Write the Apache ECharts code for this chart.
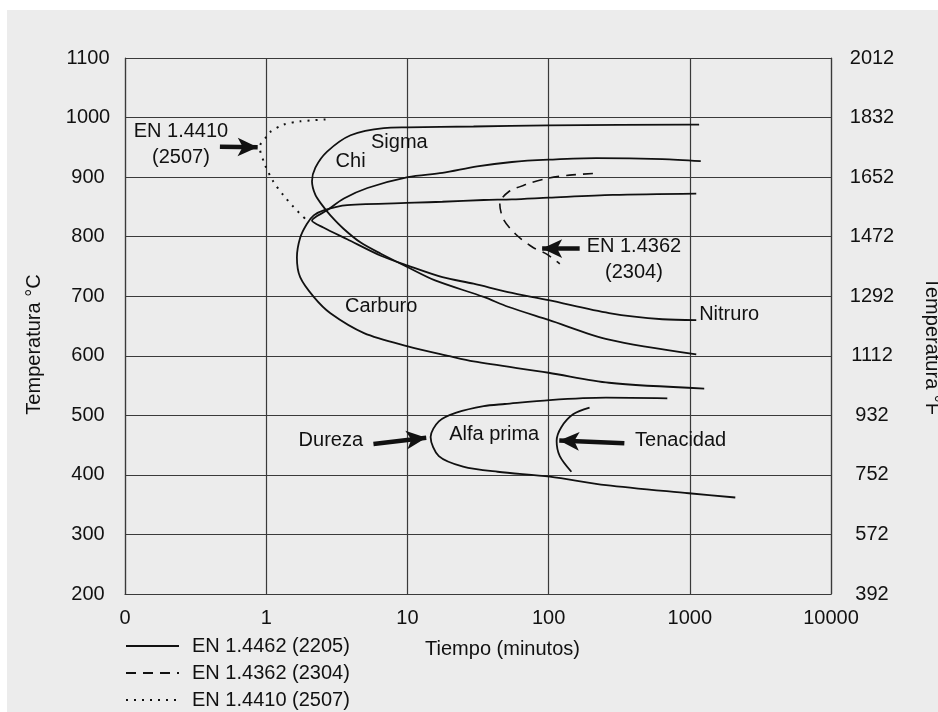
<!DOCTYPE html>
<html>
<head>
<meta charset="utf-8">
<script src="https://cdn.jsdelivr.net/npm/echarts@6/dist/echarts.min.js"></script>
<style>
html, body { margin: 0; padding: 0; background: #fff; overflow: hidden; }
#panel { position: absolute; left: 7px; top: 10px; width: 931px; height: 702px; background: #ececec; }
#chart { position: absolute; left: 0; top: 0; width: 938px; height: 712px; }
</style>
</head>
<body>
<div id="panel"></div>
<div id="chart"></div>
<script>
// Tick labels
const xTickLabels = ['0', '1', '10', '100', '1000', '10000'];
const cTickLabels = ['200', '300', '400', '500', '600', '700', '800', '900', '1000', '1100'];
const fTickLabels = ['392', '572', '752', '932', '1112', '1292', '1472', '1652', '1832', '2012'];

// Series names
const name2205 = 'EN 1.4462 (2205)';
const name2304 = 'EN 1.4362 (2304)';
const name2507 = 'EN 1.4410 (2507)';

// EN 1.4462 (2205) precipitation curves: [tiempo (min), temperatura (°C)]
const chi2205 = [[1164, 988], [1000, 988], [100, 987], [29.4, 985], [10, 983.5], [6.8, 982.4], [3.96, 970.3],
  [2.70, 942.8], [2.23, 916], [2.11, 893], [2.23, 870], [2.49, 853], [2.85, 835.7], [3.53, 813.3],
  [4.67, 790], [6.49, 771.3], [10.07, 748.6], [15.7, 726.5], [34.7, 698.8], [51.6, 682.3],
  [100, 660.2], [268, 627], [1111, 602.2]];
const sigma2205 = [[1196, 926.7], [640, 930.3], [217, 931.9], [100, 929.2], [55, 925.4], [31.2, 918.2],
  [17.7, 907.2], [10.07, 900], [5.21, 881.7], [3.55, 864], [2.70, 844.3], [2.11, 827], [2.54, 815.5],
  [3.75, 795.7], [6.49, 768], [10.07, 751.4], [17.7, 732], [29.4, 721], [51.6, 707], [100, 693.4],
  [268, 671.8], [640, 661.3], [1111, 660]];
const carb2205 = [[1111, 872.4], [285, 870.2], [100, 865.5], [55, 862.6], [34.7, 861.6], [17.7, 858.6],
  [11.3, 857], [3.75, 852.9], [2.55, 844.3], [2.17, 835.7], [1.94, 821.4], [1.74, 798.3], [1.65, 765.2],
  [1.74, 731.9], [2.17, 698.8], [2.85, 671.3], [4.93, 638.1], [10.07, 615.9], [19.9, 599.3],
  [29.4, 590.5], [100, 571.5], [268, 554.7], [1265, 545]];
const alpha2205 = [[693, 528.5], [255, 529.6], [102, 525.6], [49, 519], [34.7, 515.6], [22.2, 504.5],
  [16.7, 490], [14.6, 463.7], [16.7, 431.6], [24.8, 414], [43.6, 405.3], [102, 397], [255, 382.9],
  [984, 369.2], [2100, 362]];
const tough2205 = [[195, 512.9], [149, 501.7], [123, 480], [114, 457], [120, 431.6], [145, 405.3]];

// EN 1.4362 (2304)
const curve2304 = [[206, 906.1], [141, 903.3], [97, 897.8], [68.9, 887.5], [51.9, 875], [45.1, 856],
  [47.7, 830], [58.5, 804], [77.6, 781.8], [97, 770.8], [120, 754.2]];

// EN 1.4410 (2507)
const curve2507 = [[2.63, 996.7], [1.74, 993.6], [1.32, 988], [1.06, 975.5], [1.01, 968.9], [0.90, 950.6],
  [0.98, 921], [1.12, 893], [1.32, 870], [1.56, 850], [1.89, 830]];

// Annotation texts and their anchor points [tiempo, temperatura]
const noteTexts = ['Sigma', 'Chi', 'Carburo', 'Nitruro', 'Alfa prima', 'Dureza', 'Tenacidad',
  'EN 1.4410\n(2507)', 'EN 1.4362\n(2304)'];
const notePoints = [[8.77, 958.8], [3.96, 925.9], [6.52, 682.3], [1900, 668.5], [41.2, 467.7],
  [2.87, 457.9], [861, 457.9], [0.249, 954.7], [402, 761.4]];

// Pointer arrows: [from, to]
const arrows = [
  [[0.47, 951], [0.87, 950]],
  [[166, 780], [90, 780]],
  [[5.75, 452], [13.6, 462.4]],
  [[344, 453], [119, 457.8]]
];

const ink = '#111111';
const gridInk = '#3a3a3a';
const font = "'Liberation Sans', Arial, sans-serif";

const solid = { color: ink, width: 1.8, type: 'solid' };
const dashed = { color: ink, width: 1.6, type: [10, 7] };
const dotted = { color: ink, width: 2, type: [2, 6] };

function curve(name, data, style) {
  return {
    name: name, type: 'line', data: data, smooth: 0.3, symbol: 'none',
    lineStyle: style, itemStyle: { color: ink }, silent: true, z: 3
  };
}

const chart = echarts.init(document.getElementById('chart'), null, { renderer: 'canvas' });

chart.setOption({
  animation: false,
  backgroundColor: 'transparent',
  textStyle: { fontFamily: font, color: ink },
  grid: { left: 125, right: 107, top: 58, bottom: 118, containLabel: false, outerBoundsMode: 'none' },
  legend: {
    orient: 'vertical', left: 125, top: 636, padding: 0,
    itemWidth: 53, itemHeight: 14, itemGap: 7,
    selectedMode: false,
    itemStyle: { opacity: 0 },
    data: [name2205, name2304, name2507],
    textStyle: { fontSize: 20, color: ink, fontFamily: font, lineHeight: 20, padding: [0, 0, 0, 8] }
  },
  xAxis: {
    type: 'log', logBase: 10, min: 0.1, max: 10000,
    name: 'Tiempo (minutos)', nameLocation: 'middle', nameGap: 45,
    nameTextStyle: { fontSize: 20, color: ink, fontFamily: font, padding: [0, 0, 0, 49] },
    axisLine: { show: true, lineStyle: { color: gridInk, width: 1.2 } },
    axisTick: { show: false },
    minorTick: { show: false },
    splitLine: { show: true, lineStyle: { color: gridInk, width: 1.2 } },
    axisLabel: {
      fontSize: 20, color: ink, fontFamily: font, margin: 14,
      showMinLabel: true, showMaxLabel: true,
      formatter: function (v, i) { return xTickLabels[i]; }
    }
  },
  yAxis: [
    {
      type: 'value', min: 200, max: 1100, interval: 100, position: 'left',
      name: 'Temperatura °C', nameLocation: 'middle', nameGap: 81,
      nameTextStyle: { fontSize: 20, color: ink, fontFamily: font, padding: [0, 37, 0, 0] },
      axisLine: { show: true, lineStyle: { color: gridInk, width: 1.2 } },
      axisTick: { show: false },
      splitLine: { show: true, lineStyle: { color: gridInk, width: 1.2 } },
      axisLabel: {
        fontSize: 20, color: ink, fontFamily: font, align: 'center', margin: 37,
        formatter: function (v, i) { return cTickLabels[i]; }
      }
    },
    {
      type: 'value', min: 200, max: 1100, interval: 100, position: 'right',
      name: 'Temperatura °F', nameLocation: 'middle', nameGap: 91, nameRotate: -90,
      nameTextStyle: { fontSize: 20, color: ink, fontFamily: font, padding: [0, 0, 0, 40] },
      axisLine: { show: true, lineStyle: { color: gridInk, width: 1.2 } },
      axisTick: { show: false },
      splitLine: { show: false },
      axisLabel: {
        fontSize: 20, color: ink, fontFamily: font, align: 'center', margin: 41,
        formatter: function (v, i) { return fTickLabels[i]; }
      }
    }
  ],
  series: [
    curve(name2205, chi2205, solid),
    curve(name2205, sigma2205, solid),
    curve(name2205, carb2205, solid),
    curve(name2205, alpha2205, solid),
    curve(name2205, tough2205, solid),
    curve(name2304, curve2304, dashed),
    curve(name2507, curve2507, dotted),
    {
      name: 'notas', type: 'scatter', symbolSize: 0, silent: true, z: 5,
      itemStyle: { opacity: 1 },
      data: noteTexts.map(function (t, i) {
        return { name: t, value: notePoints[i] };
      }),
      label: {
        show: true, position: 'inside', formatter: '{b}', opacity: 1,
        fontSize: 20, color: ink, fontFamily: font, lineHeight: 26,
        align: 'center', verticalAlign: 'middle'
      },
      markLine: {
        silent: true, animation: false,
        symbol: ['none', 'arrow'], symbolSize: [14, 20],
        lineStyle: { color: ink, width: 4.5, type: 'solid', opacity: 1 },
        label: { show: false },
        emphasis: { disabled: true },
        data: arrows.map(function (a) { return [{ coord: a[0] }, { coord: a[1] }]; })
      }
    }
  ]
});
</script>
</body>
</html>
